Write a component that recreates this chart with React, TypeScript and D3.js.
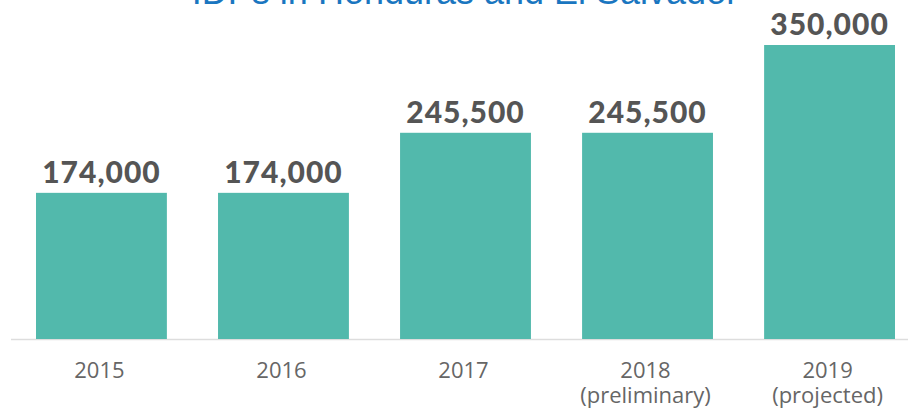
import React from "react";
import * as d3 from "d3";

const categories = ["2015", "2016", "2017", "2018", "2019"];
const subLabels = ["", "", "", "(preliminary)", "(projected)"];
const values = [174000, 174000, 245500, 245500, 350000];
const title = "IDPs in Honduras and El Salvador";

const W = 908;
const H = 411;

export default function App() {
  const x = d3.scaleBand<string>().domain(categories).range([36, 895]).paddingInner(0.281).paddingOuter(0);
  const y = d3.scaleLinear().domain([0, 350000]).range([339, 45]);
  const fmt = d3.format(",");
  return (
    <svg width={W} height={H} style={{ position: "absolute", left: 0, top: 0, background: "#fff" }}>
      <text x={465} y={4} textAnchor="middle" fontFamily="Liberation Sans, Arial, sans-serif" fontSize={36} fill="#1a76c0">
        {title}
      </text>
      <line x1={11} x2={908} y1={339.5} y2={339.5} stroke="#dddddd" strokeWidth={1.5} />
      {categories.map((c, i) => {
        const bx = x(c)!;
        const bw = x.bandwidth();
        const cx = bx + bw / 2;
        return (
          <g key={c}>
            <rect x={bx} y={y(values[i])} width={bw} height={y(0) - y(values[i])} fill="#52b9ac" />
            <text x={cx} y={y(values[i]) - 10} textAnchor="middle" fontFamily="Lato, sans-serif" fontWeight={900} fontSize={30} letterSpacing={1} fill="#555555">
              {fmt(values[i])}
            </text>
            <text x={cx - 2} y={378} textAnchor="middle" fontFamily="Open Sans, sans-serif" fontSize={22} fill="#666666">
              {c}
            </text>
            {subLabels[i] && (
              <text x={cx - 2} y={403} textAnchor="middle" fontFamily="Open Sans, sans-serif" fontSize={22} fill="#666666">
                {subLabels[i]}
              </text>
            )}
          </g>
        );
      })}
    </svg>
  );
}
